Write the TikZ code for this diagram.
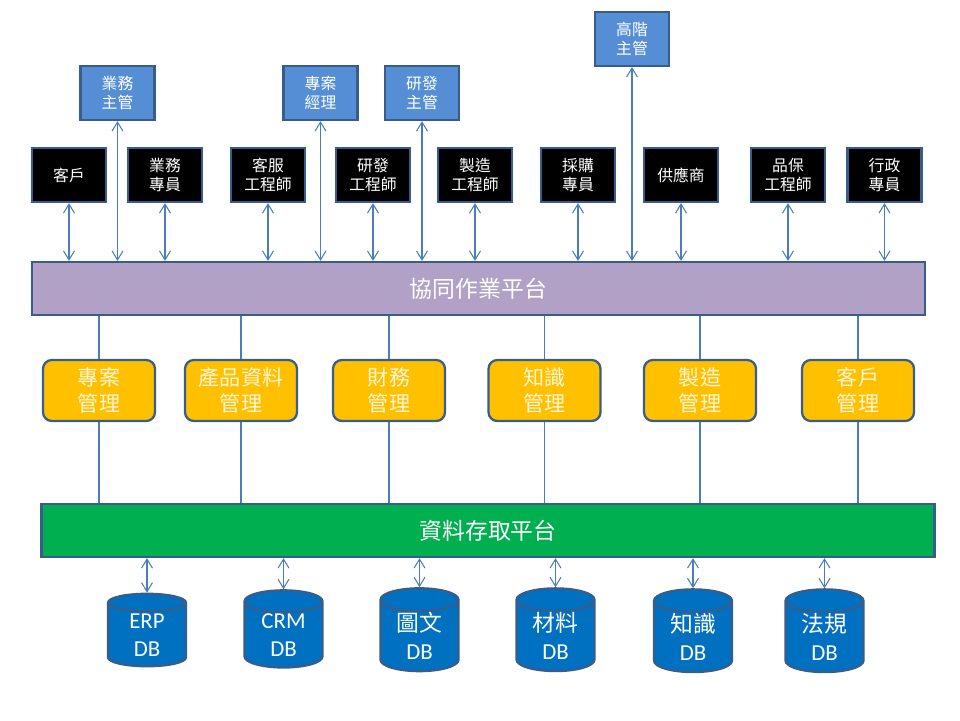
\documentclass[tikz,border=0pt]{standalone}
\usepackage{fontspec}
\setmainfont{Carlito}
\newfontfamily\cjk{Noto Sans CJK TC}
\usepackage{tikz}
\usetikzlibrary{positioning, arrows.meta, shapes.geometric}
\definecolor{rimblue}{RGB}{56,93,138}
\definecolor{bossblue}{RGB}{85,142,213}
\definecolor{collabpurple}{RGB}{178,161,199}
\definecolor{modorange}{RGB}{255,192,0}
\definecolor{modtext}{RGB}{255,245,215}
\definecolor{datagreen}{RGB}{0,176,80}
\definecolor{dbblue}{RGB}{0,112,192}
\definecolor{linkblue}{RGB}{74,126,187}

\begin{document}
\begin{tikzpicture}[
  x=0.02cm, y=-0.02cm,
  role/.style={draw=rimblue, line width=1.3pt, fill=black, text=white,
               minimum width=1.48cm, minimum height=1.08cm, inner sep=1pt,
               align=center, font=\cjk\fontsize{9}{11}\selectfont},
  boss/.style={role, fill=bossblue},
  platform/.style={draw=rimblue, line width=1.3pt, minimum width=17.86cm,
                   minimum height=1.06cm, text=white,
                   font=\cjk\fontsize{13}{15}\selectfont},
  module/.style={draw=rimblue, line width=1.3pt, fill=modorange, text=modtext,
                 rounded corners=5pt, minimum width=2.24cm, minimum height=1.22cm,
                 inner sep=1pt, align=center, font=\cjk\fontsize{12}{14.5}\selectfont},
  db/.style={cylinder, shape border rotate=90, aspect=0.5, draw=rimblue,
             line width=1.3pt, fill=dbblue, text=white, minimum width=1.56cm,
             minimum height=1.45cm, inner sep=0pt, align=center,
             font=\fontsize{13}{16}\selectfont},
  arr/.style={{Straight Barb[length=1.8mm,width=2.2mm]}-{Straight Barb[length=1.8mm,width=2.2mm]},
              draw=linkblue, line width=0.6pt},
  ln/.style={draw=linkblue, line width=0.6pt}
]
\useasboundingbox (0,0) rectangle (960,720);

% managers
\node[boss] (salesmgr) at (117.5,93) {業務\\主管};
\node[boss] (pm)       at (320.5,93) {專案\\經理};
\node[boss] (rdmgr)    at (422,93)   {研發\\主管};
\node[boss] (exec)     at (632,39)   {高階\\主管};

% roles
\node[role] (cust)  at (69,175)    {客戶};
\node[role] (sales) at (165,175)   {業務\\專員};
\node[role] (svc)   at (268,175)   {客服\\工程師};
\node[role] (rd)    at (373,175)   {研發\\工程師};
\node[role] (mfg)   at (475,175)   {製造\\工程師};
\node[role] (buy)   at (578,175)   {採購\\專員};
\node[role] (supp)  at (681,175)   {供應商};
\node[role] (qa)    at (788,175)   {品保\\工程師};
\node[role] (adm)   at (884.5,175) {行政\\專員};

% platforms
\node[platform, fill=collabpurple] (collab) at (478.5,288.5) {協同作業平台};
\node[platform, fill=datagreen]    (data)   at (488,530.5)   {資料存取平台};

% modules
\node[module] (proj) at (99,390.5)    {專案\\管理};
\node[module] (pdm)  at (241,390.5)   {產品資料\\管理};
\node[module] (fin)  at (389,390.5)   {財務\\管理};
\node[module] (know) at (544.5,390.5) {知識\\管理};
\node[module] (mfgm) at (700,390.5)   {製造\\管理};
\node[module] (crmm) at (858,390.5)   {客戶\\管理};

% databases
\node[db] (erp)   at (147,635)   {ERP\\DB};
\node[db] (crmdb) at (283.5,635) {CRM\\DB};
\node[db] (img)   at (419.5,636) {{\cjk 圖文}\\DB};
\node[db] (mat)   at (555.5,636) {{\cjk 材料}\\DB};
\node[db] (kdb)   at (693,637)   {{\cjk 知識}\\DB};
\node[db] (law)   at (824.5,637) {{\cjk 法規}\\DB};

% links to the collaboration platform
\draw[arr] (salesmgr) -- (salesmgr |- collab.north);
\draw[arr] (pm)       -- (pm |- collab.north);
\draw[arr] (rdmgr)    -- (rdmgr |- collab.north);
\draw[arr] (exec)     -- (exec |- collab.north);
\draw[arr] (cust)  -- (cust |- collab.north);
\draw[arr] (sales) -- (sales |- collab.north);
\draw[arr] (svc)   -- (svc |- collab.north);
\draw[arr] (rd)    -- (rd |- collab.north);
\draw[arr] (mfg)   -- (mfg |- collab.north);
\draw[arr] (buy)   -- (buy |- collab.north);
\draw[arr] (supp)  -- (supp |- collab.north);
\draw[arr] (qa)    -- (qa |- collab.north);
\draw[arr] (adm)   -- (adm |- collab.north);

% modules between the two platforms
\draw[ln] (proj |- collab.south) -- (proj) -- (proj |- data.north);
\draw[ln] (pdm |- collab.south)  -- (pdm)  -- (pdm |- data.north);
\draw[ln] (fin |- collab.south)  -- (fin)  -- (fin |- data.north);
\draw[ln] (know |- collab.south) -- (know) -- (know |- data.north);
\draw[ln] (mfgm |- collab.south) -- (mfgm) -- (mfgm |- data.north);
\draw[ln] (crmm |- collab.south) -- (crmm) -- (crmm |- data.north);

% databases
\draw[arr] (erp.north)   -- (erp.north |- data.south);
\draw[arr] (crmdb.north) -- (crmdb.north |- data.south);
\draw[arr] (img.north)   -- (img.north |- data.south);
\draw[arr] (mat.north)   -- (mat.north |- data.south);
\draw[arr] (kdb.north)   -- (kdb.north |- data.south);
\draw[arr] (law.north)   -- (law.north |- data.south);
\end{tikzpicture}
\end{document}
